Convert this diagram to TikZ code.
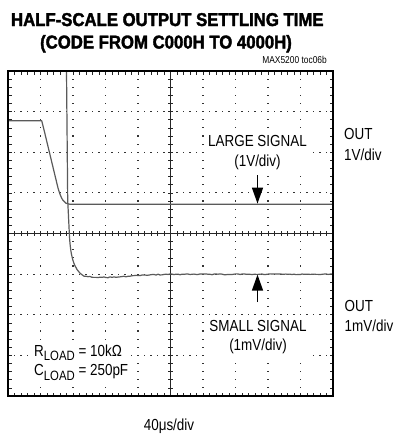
\documentclass[tikz,border=0pt]{standalone}
\usepackage{fontspec}
\setmainfont{Liberation Sans}
\newfontfamily\narrowfont{Liberation Sans}[FakeStretch=0.84]
\newfontfamily\titlefont{Liberation Sans}[FakeStretch=0.9,FakeBold=2]
\usetikzlibrary{arrows.meta}
\definecolor{tracegray}{HTML}{5A5A5A}
\definecolor{dotgray}{HTML}{333333}
\tikzset{
  lab/.style={font=\narrowfont\fontsize{16}{20}\selectfont, inner sep=0pt, text=black},
  ttl/.style={font=\titlefont\bfseries\fontsize{18.6}{22}\selectfont, inner sep=0pt},
  tagtext/.style={font=\narrowfont\fontsize{10}{12}\selectfont, inner sep=0pt},
  trace/.style={draw=tracegray, line width=1.2pt, line join=round},
  gdot/.style={fill=dotgray},
  frame/.style={line width=2.8pt},
  tick/.style={line width=0.7pt, draw=black!85},
  sigarrow/.style={line width=1.4pt, -{Triangle[length=16pt,width=11pt]}},
}
\begin{document}
\begin{tikzpicture}[x=1pt,y=-1pt]
\useasboundingbox (0,0) rectangle (398,434);
% title
\node[ttl, anchor=base] (t1) at (167.3,26) {HALF-SCALE OUTPUT SETTLING TIME};
\node[ttl, anchor=base] (t2) at (166,48.5) {(CODE FROM C000H TO 4000H)};
\node[tagtext, anchor=base east] (tag) at (327,63) {MAX5200 toc06b};
% dotted grid
\foreach \i in {1,2,3,4,6,7,8,9}
  \foreach \k in {1,...,39}
    \fill[gdot] ({8+32.5*\i-0.6},{71+8.125*\k-0.6}) rectangle +(1.2,1.2);
\foreach \j in {1,2,3,5,6,7}
  \foreach \k in {1,...,49}
    \fill[gdot] ({8+6.5*\k-0.6},{71+40.625*\j-0.6}) rectangle +(1.2,1.2);
% label backgrounds
\fill[white] (205,131) rectangle (311,171);
\fill[white] (205,317) rectangle (311,358);
\fill[white] (31,341) rectangle (131,383);
% centre axes with ticks
\draw[tick] (8,233.5) -- (333,233.5);
\foreach \k in {1,...,49} \draw[tick] ({8+6.5*\k},231) -- ++(0,5);
\draw[tick] (170.5,71) -- (170.5,396);
\foreach \k in {1,...,39} \draw[tick] (168,{71+8.125*\k}) -- ++(5,0);
% border ticks
\foreach \k in {1,...,49} {
  \draw[tick] ({8+6.5*\k},71) -- ++(0,3.5);
  \draw[tick] ({8+6.5*\k},396) -- ++(0,-3.5);
}
\foreach \k in {1,...,39} {
  \draw[tick] (8,{71+8.125*\k}) -- ++(3.5,0);
  \draw[tick] (333,{71+8.125*\k}) -- ++(-3.5,0);
}
% traces
\draw[trace] (8,120.7) -- (41.7,120.7) -- (43.8,129) -- (58,188)
  .. controls (61,198) and (63.5,204.3) .. (70,204.3) -- (333,204.3);
\pgfmathsetseed{42}
\draw[trace] (66.5,71) -- (67.7,200) -- (69.3,233)
  .. controls (70.3,254) and (73,270) .. (84,276.2)
  \foreach \k in {1,...,124} { -- ({84+2*\k},{274.3+3*exp(-((2*\k-21)/35)*((2*\k-21)/35))+0.45*rand}) };
% frame
\draw[frame] (8,71) rectangle (333,396);
% arrows
\coordinate (lgtail) at (257.5,175);
\coordinate (lgtip) at (257.5,203.6);
\draw[sigarrow] (lgtail) -- (lgtip);
\coordinate (smtail) at (257.5,302);
\coordinate (smtip) at (257.5,274.6);
\draw[sigarrow] (smtail) -- (smtip);
% labels
\node[lab, anchor=base] (lsig) at (257.5,146.5) {LARGE SIGNAL};
\node[lab, anchor=base] (ldiv) at (257.5,166) {(1V/div)};
\node[lab, anchor=base west] (out1) at (344,139.3) {OUT};
\node[lab, anchor=base west] (v1) at (344,160) {1V/div};
\node[lab, anchor=base] (ssig) at (258,331.7) {SMALL SIGNAL};
\node[lab, anchor=base] (sdiv) at (258,350.7) {(1mV/div)};
\node[lab, anchor=base west] (out2) at (344.5,311.5) {OUT};
\node[lab, anchor=base west] (v2) at (344.5,331.7) {1mV/div};
\node[lab, anchor=base west] (rl) at (34,356) {R\raisebox{-4.5pt}{\fontsize{13.5}{14}\selectfont LOAD} = 10kΩ};
\node[lab, anchor=base west] (cl) at (34,375.5) {C\raisebox{-4.5pt}{\fontsize{13.5}{14}\selectfont LOAD} = 250pF};
\node[lab, anchor=base] (tdiv) at (169,430) {40μs/div};
\end{tikzpicture}
\end{document}
